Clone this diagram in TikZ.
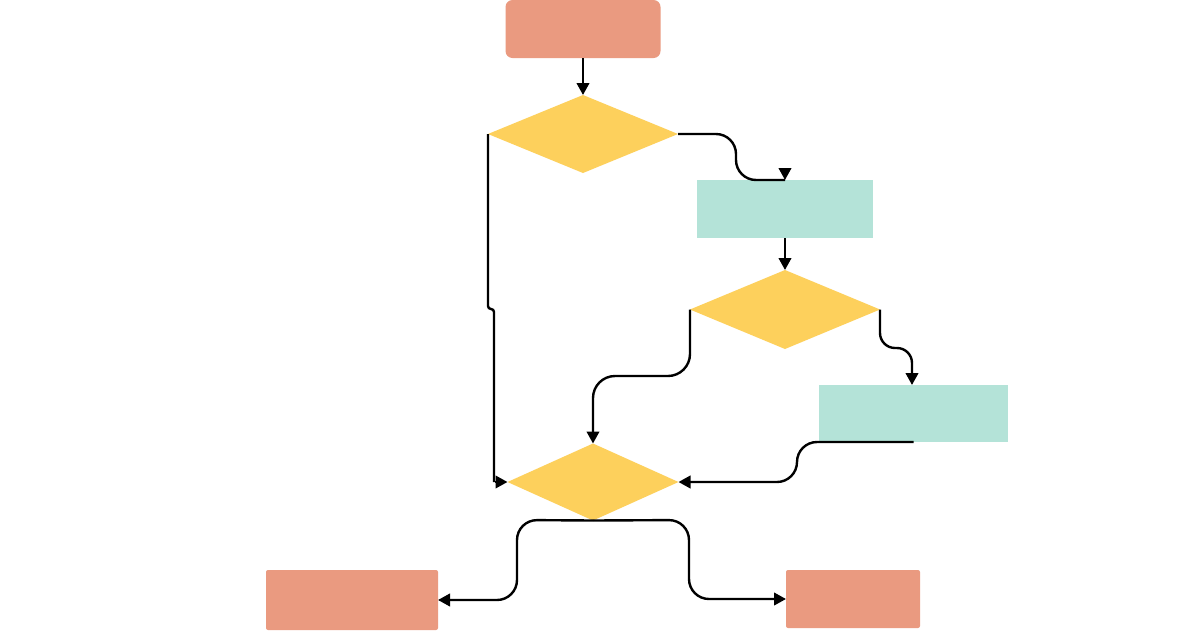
\documentclass[tikz,border=0pt]{standalone}
\usetikzlibrary{shapes.geometric,arrows.meta,calc}
\definecolor{salmon}{HTML}{EA9A80}
\definecolor{sun}{HTML}{FDD05C}
\definecolor{mint}{HTML}{B4E3D8}
\tikzset{
  base/.style={inner sep=0pt, outer sep=0pt, draw=none},
  terminal/.style={base, rectangle, fill=salmon, rounded corners=7pt},
  endbox/.style={base, rectangle, fill=salmon, rounded corners=2pt},
  decision/.style={base, diamond, fill=sun},
  process/.style={base, rectangle, fill=mint},
  conn/.style={line width=2.4pt, draw=black},
  arr/.style={conn, -{Triangle[length=12pt,width=12.5pt]}},
}
\begin{document}
\begin{tikzpicture}[x=1pt,y=-1pt]
\useasboundingbox (0,0) rectangle (1200,630);
\fill[white] (0,0) rectangle (1200,630);
% nodes
\node[terminal, minimum width=155pt, minimum height=58pt] (start) at (583,29) {};
\node[decision, minimum width=190pt, minimum height=78pt] (d1) at (583,134) {};
\node[process, minimum width=176pt, minimum height=58pt] (p1) at (785,209) {};
\node[decision, minimum width=190pt, minimum height=79pt] (d2) at (785,309.5) {};
\node[process, minimum width=189pt, minimum height=57pt] (p2) at (913.5,413.5) {};
\node[decision, minimum width=171pt, minimum height=77pt] (d3) at (593,482) {};
\node[endbox, minimum width=172pt, minimum height=60pt] (e1) at (352,600) {};
\node[endbox, minimum width=134pt, minimum height=58pt] (e2) at (853,599) {};
% connectors
\draw[arr] (start.south) -- (d1.north);
\draw[conn, rounded corners=20pt] (d1.east) -- (736,134) -- (736,180) -- (p1.north);
\draw[arr] ($(p1.north)+(0,-12)$) -- (p1.north);
\draw[arr] (p1.south) -- (d2.north);
\draw[conn, rounded corners=3pt] (d1.west) -- (488,309) -- (494,309) -- (494,482);
\draw[arr] ($(d3.west)+(-13,0)$) -- (d3.west);
\draw[arr, rounded corners=15pt] (d2.east) -- (880,348) -- (912,348) -- (912,385);
\draw[arr, rounded corners=22pt] (d2.west) -- (690,376) -- (593,376) -- (d3.north);
\draw[arr, rounded corners=20pt] (p2.south) -- (797,442) -- (797,482) -- (d3.east);
\draw[arr, rounded corners=20pt] (d3.south) -- (517,520) -- (517,600) -- (e1.east);
\draw[arr, rounded corners=20pt] (d3.south) -- (689,520) -- (689,599) -- (e2.west);
\end{tikzpicture}
\end{document}
